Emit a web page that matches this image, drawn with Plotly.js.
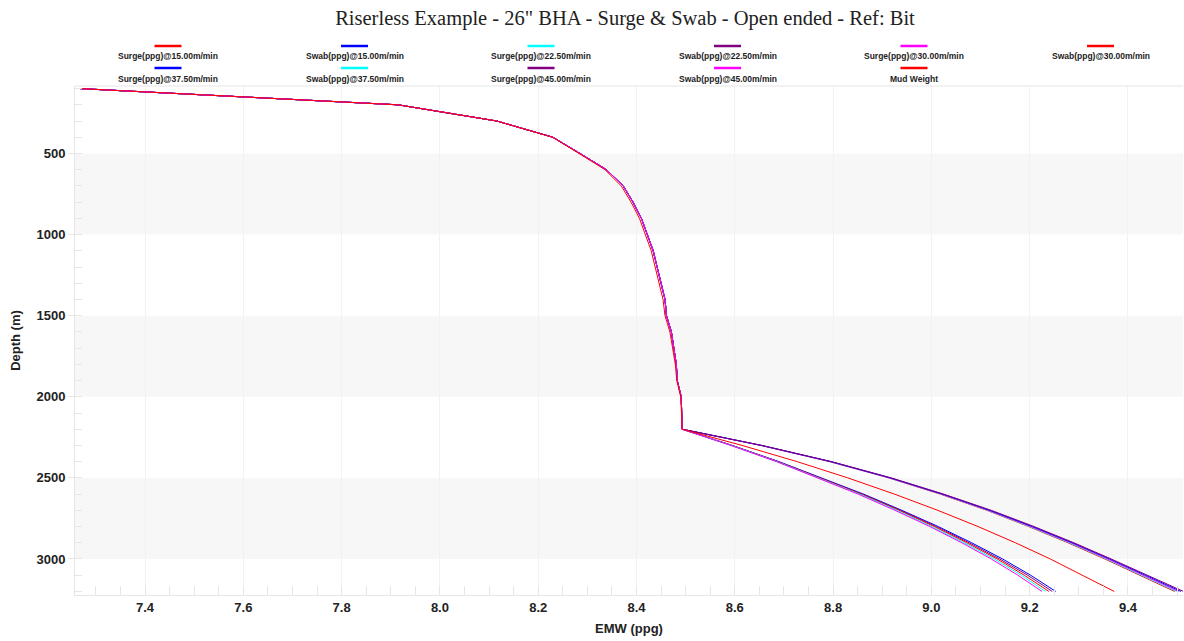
<!DOCTYPE html>
<html>
<head>
<meta charset="utf-8">
<script src="https://cdn.plot.ly/plotly-3.0.1.min.js"></script>
<style>html,body{margin:0;padding:0;background:#fff;}#chart{width:1184px;height:641px;}</style>
</head>
<body>
<div id="chart"></div>
<script>
// ---------- data ----------
const seriesNames = [
  "Surge(ppg)@15.00m/min", "Swab(ppg)@15.00m/min", "Surge(ppg)@22.50m/min",
  "Swab(ppg)@22.50m/min", "Surge(ppg)@30.00m/min", "Swab(ppg)@30.00m/min",
  "Surge(ppg)@37.50m/min", "Swab(ppg)@37.50m/min", "Surge(ppg)@45.00m/min",
  "Swab(ppg)@45.00m/min", "Mud Weight"
];
const seriesColors = ["#FF0000","#0000FF","#00FFFF","#800080","#FF00FF","#FF0000",
                      "#0000FF","#00FFFF","#800080","#FF00FF","#FF0000"];

// common upper part (surge/swab curves coincide above 2200 m)
const depthUpper = [100, 200, 300, 400, 500, 600, 700, 800, 900, 1100, 1400, 1500, 1600, 1800, 1900, 2000, 2200];
const emwUpper   = [7.268, 7.915, 8.116, 8.230, 8.285, 8.339, 8.373, 8.393, 8.410, 8.434, 8.458, 8.461, 8.471, 8.481, 8.483, 8.491, 8.493];
// mud weight upper part (slightly left of the others in the steep section)
const mudUpper   = [7.268, 7.915, 8.116, 8.229, 8.283, 8.336, 8.369, 8.389, 8.406, 8.430, 8.454, 8.458, 8.468, 8.479, 8.482, 8.490, 8.493];

// lower part, per series
const depthLower = [2300, 2400, 2500, 2600, 2700, 2800, 2900, 3000, 3100, 3200];
const surge15  = [8.653, 8.793, 8.913, 9.018, 9.113, 9.198, 9.278, 9.353, 9.424, 9.495];
const swab15   = [8.595, 8.690, 8.778, 8.862, 8.940, 9.014, 9.082, 9.145, 9.202, 9.253];
const surge225 = [8.654, 8.794, 8.914, 9.020, 9.115, 9.200, 9.281, 9.356, 9.428, 9.499];
const swab225  = [8.594, 8.689, 8.776, 8.859, 8.937, 9.010, 9.077, 9.139, 9.196, 9.246];
const surge30  = [8.654, 8.795, 8.915, 9.021, 9.117, 9.203, 9.284, 9.359, 9.431, 9.503];
const swab30   = [8.594, 8.687, 8.774, 8.857, 8.934, 9.006, 9.072, 9.134, 9.189, 9.239];
const surge375 = [8.655, 8.796, 8.917, 9.023, 9.119, 9.206, 9.287, 9.363, 9.435, 9.508];
const swab375  = [8.593, 8.686, 8.772, 8.854, 8.930, 9.001, 9.067, 9.128, 9.183, 9.232];
const surge45  = [8.655, 8.797, 8.918, 9.025, 9.122, 9.209, 9.290, 9.366, 9.439, 9.513];
const swab45   = [8.592, 8.685, 8.770, 8.851, 8.926, 8.997, 9.062, 9.122, 9.176, 9.225];
const mudWeight= [8.615, 8.727, 8.830, 8.925, 9.013, 9.095, 9.171, 9.242, 9.308, 9.372];

const lowerSets = [surge15, swab15, surge225, swab225, surge30, swab30, surge375, swab375, surge45, swab45, mudWeight];
const upperSets = [emwUpper, emwUpper, emwUpper, emwUpper, emwUpper, emwUpper, emwUpper, emwUpper, emwUpper, emwUpper, mudUpper];

const yTickVals = [500, 1000, 1500, 2000, 2500, 3000];
const xTickVals = [7.4, 7.6, 7.8, 8.0, 8.2, 8.4, 8.6, 8.8, 9.0, 9.2, 9.4];

// ---------- build ----------
const W = 1184, H = 641;
const M = {l: 75, r: 1, t: 86, b: 46};
const pw = W - M.l - M.r, ph = H - M.t - M.b;
const px = X => (X - M.l) / pw;
const py = Y => (H - M.b - Y) / ph;

const traces = seriesNames.map((n, i) => ({
  type: 'scatter', mode: 'lines', name: n,
  x: upperSets[i].concat(lowerSets[i]),
  y: depthUpper.concat(depthLower),
  line: {color: seriesColors[i], width: 1},
  showlegend: false, hoverinfo: 'x+y+name'
}));

// alternating depth bands
const shapes = [];
for (let k = 0; k < yTickVals.length; k += 2) {
  shapes.push({type: 'rect', xref: 'paper', yref: 'y', x0: 0, x1: 1,
    y0: yTickVals[k], y1: yTickVals[k] + 500, fillcolor: '#F7F7F7', line: {width: 0}, layer: 'below'});
}
// top frame line
shapes.push({type: 'line', xref: 'paper', yref: 'paper', x0: 0, x1: 1, y0: 1, y1: 1, line: {color: '#E6E6E6', width: 1}});

// custom legend (symbol above label, 6 columns x 2 rows)
const annotations = [];
const colX0 = 168, colDX = 186.5, rowY0 = 46, rowDY = 22;
seriesNames.forEach((n, i) => {
  const c = i % 6, r = Math.floor(i / 6);
  const cx = colX0 + c * colDX, ly = rowY0 + r * rowDY;
  shapes.push({type: 'line', xref: 'paper', yref: 'paper',
    x0: px(cx - 13.5), x1: px(cx + 13.5), y0: py(ly), y1: py(ly),
    line: {color: seriesColors[i], width: 2.5}});
  annotations.push({xref: 'paper', yref: 'paper', x: px(cx), y: py(ly + 10.5),
    text: n, showarrow: false, xanchor: 'center', yanchor: 'middle',
    font: {family: 'Liberation Sans, Arial, sans-serif', size: 8.5, color: '#222', weight: 'bold'}});
});

const layout = {
  width: W, height: H, margin: M,
  paper_bgcolor: '#fff', plot_bgcolor: '#fff',
  showlegend: false,
  title: {text: 'Riserless Example - 26" BHA - Surge &amp; Swab - Open ended - Ref: Bit',
    font: {family: 'Liberation Serif, Times New Roman, serif', size: 20.5, color: '#222'},
    x: 625 / W, xref: 'container', xanchor: 'center', y: 1 - 18 / H, yref: 'container', yanchor: 'middle'},
  xaxis: {
    range: [7.2575, 9.512], tickvals: xTickVals, ticktext: xTickVals.map(v => v.toFixed(1)),
    showgrid: true, gridcolor: '#F2F2F2', gridwidth: 1, zeroline: false,
    showline: true, linecolor: '#E6E6E6', linewidth: 1, mirror: false,
    ticks: '', tickfont: {family: 'Liberation Sans, Arial, sans-serif', size: 13, color: '#222', weight: 'bold'},
    minor: {dtick: 0.05, tick0: 0, ticks: 'inside', ticklen: 9, tickcolor: '#E6E6E6', showgrid: false},
    title: {text: 'EMW (ppg)', font: {family: 'Liberation Sans, Arial, sans-serif', size: 13, color: '#222', weight: 'bold'}, standoff: 10}
  },
  yaxis: {
    range: [3222, 84], tickvals: yTickVals, ticktext: yTickVals.map(String),
    showgrid: false, zeroline: false,
    showline: true, linecolor: '#E6E6E6', linewidth: 1,
    ticks: 'outside', ticklen: 6, tickcolor: '#E6E6E6',
    tickfont: {family: 'Liberation Sans, Arial, sans-serif', size: 13, color: '#222', weight: 'bold'},
    minor: {dtick: 100, tick0: 0, ticks: 'inside', ticklen: 7, tickcolor: '#E6E6E6', showgrid: false},
    title: {text: 'Depth (m)', font: {family: 'Liberation Sans, Arial, sans-serif', size: 13, color: '#222', weight: 'bold'}, standoff: 12}
  },
  shapes: shapes, annotations: annotations
};

Plotly.newPlot('chart', traces, layout, {displayModeBar: false, staticPlot: true});
</script>
</body>
</html>
